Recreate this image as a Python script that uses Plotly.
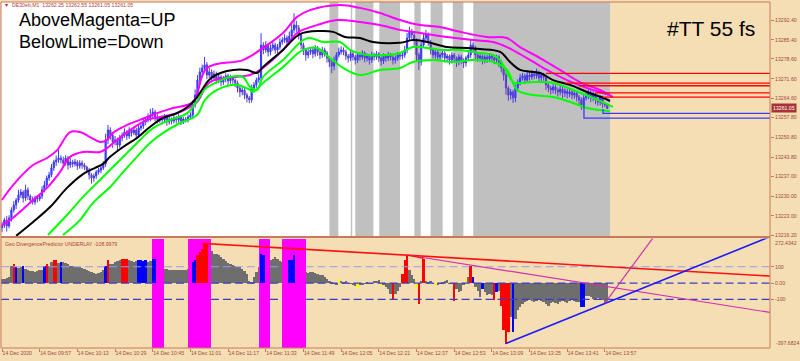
import plotly.graph_objects as go

# ---------------- data ----------------
time_labels = ["14 Dec 2020", "14 Dec 09:57", "14 Dec 10:13", "14 Dec 10:29", "14 Dec 10:45",
               "14 Dec 11:01", "14 Dec 11:17", "14 Dec 11:33", "14 Dec 11:49", "14 Dec 12:05",
               "14 Dec 12:21", "14 Dec 12:37", "14 Dec 12:53", "14 Dec 13:09", "14 Dec 13:25",
               "14 Dec 13:41", "14 Dec 13:57"]
label_minutes = [0, 16, 32, 48, 64, 80, 96, 112, 128, 144, 160, 176, 192, 208, 224, 240, 256]

price_ticks = [13292.40, 13285.40, 13278.60, 13271.60, 13264.60, 13257.80, 13250.80,
               13243.80, 13237.00, 13230.00, 13223.00, 13216.20]
osc_ticks = [100, 0, -100]
osc_tick_text = ["100", "0.00", "-100"]
osc_max, osc_min = 272.4342, -397.6824
price_max, price_min = 13298.78, 13215.85

first_open = 13218.8
closes = [
13219.7, 13221.5, 13219.4, 13222.2, 13225.1, 13226.8, 13228.6, 13230.4, 13231.4, 13229.3,
13232.2, 13230.0, 13228.6, 13227.9, 13229.3, 13229.0, 13230.0, 13232.2, 13233.9, 13236.4,
13237.5, 13240.0, 13242.1, 13242.8, 13243.5, 13242.8, 13241.7, 13243.5, 13241.0, 13242.1,
13241.4, 13242.1, 13240.7, 13241.7, 13241.0, 13240.3, 13239.2, 13237.5, 13236.4, 13237.1,
13238.5, 13239.2, 13240.0, 13241.4, 13249.9, 13253.4, 13251.6, 13249.2, 13249.9, 13248.1,
13250.6, 13251.6, 13252.7, 13251.3, 13253.4, 13252.4, 13253.4, 13251.6, 13254.1, 13254.8,
13256.3, 13257.0, 13257.7, 13258.7, 13259.8, 13258.0, 13257.0, 13257.7, 13257.0, 13258.0,
13256.3, 13257.3, 13256.6, 13257.7, 13257.0, 13258.0, 13256.6, 13257.3, 13257.0, 13258.0,
13258.7, 13262.3, 13265.8, 13271.1, 13274.0, 13275.4, 13276.5, 13272.9, 13274.0, 13271.9,
13273.3, 13271.1, 13272.2, 13270.4, 13271.5, 13272.6, 13270.8, 13271.9, 13271.1, 13270.1,
13268.3, 13266.9, 13267.6, 13265.8, 13264.8, 13264.1, 13268.3, 13269.4, 13271.1, 13271.9,
13283.5, 13281.8, 13283.5, 13281.1, 13282.5, 13283.5, 13281.8, 13282.8, 13284.6, 13285.3,
13286.0, 13284.6, 13286.7, 13288.9, 13290.6, 13289.6, 13287.1, 13283.5, 13281.8, 13280.0,
13281.1, 13281.8, 13280.4, 13282.5, 13281.1, 13280.0, 13281.8, 13280.7, 13278.9, 13277.5,
13276.1, 13278.2, 13280.0, 13281.1, 13281.8, 13281.1, 13279.6, 13278.9, 13280.4, 13279.3,
13278.2, 13280.0, 13279.3, 13280.7, 13278.9, 13279.6, 13278.2, 13280.0, 13279.3, 13280.4,
13278.9, 13277.9, 13279.6, 13278.9, 13280.0, 13279.3, 13278.2, 13278.9, 13280.0, 13279.6,
13280.0, 13281.8, 13286.0, 13288.2, 13287.1, 13285.3, 13280.0, 13277.5, 13283.5, 13286.0,
13287.1, 13284.6, 13281.8, 13280.0, 13281.1, 13279.3, 13280.0, 13280.7, 13278.9, 13279.6,
13278.2, 13280.0, 13278.9, 13277.5, 13279.3, 13278.2, 13277.2, 13278.9, 13280.0, 13283.5,
13282.5, 13280.0, 13278.9, 13279.6, 13278.2, 13279.3, 13278.6, 13279.6, 13278.9, 13278.2,
13279.3, 13277.5, 13275.4, 13272.9, 13268.3, 13265.8, 13266.9, 13264.8, 13268.3, 13270.4,
13271.9, 13272.6, 13271.1, 13272.9, 13272.2, 13273.3, 13272.6, 13273.6, 13271.9, 13272.9,
13272.2, 13269.4, 13268.3, 13267.6, 13268.7, 13267.6, 13266.9, 13267.9, 13266.5, 13267.2,
13266.2, 13266.9, 13265.8, 13266.5, 13265.1, 13264.1, 13262.3, 13264.8, 13265.5, 13266.5,
13264.8, 13265.8, 13264.1, 13263.3, 13264.8, 13262.6, 13262.25, 13261.05]

wick_up = [
1.2, 0.8, 1.5, 1.0, 0.9, 1.4, 0.7, 1.8, 1.1, 0.6,
1.8, 0.9, 0.6, 1.2, 0.8, 1.0, 0.7, 1.3, 1.5, 0.9,
1.1, 1.4, 0.8, 1.6, 2.8, 0.9, 1.2, 1.0, 0.7, 1.3,
0.8, 1.1, 0.6, 1.0, 0.9, 0.7, 0.5, 0.8, 0.6, 0.9,
0.7, 0.8, 0.6, 1.0, 2.2, 1.8, 1.0, 0.9, 1.4, 0.8,
1.1, 0.9, 1.3, 0.7, 1.0, 0.8, 1.2, 0.9, 1.4, 1.0,
1.3, 0.9, 1.6, 2.2, 1.4, 0.8, 1.0, 0.7, 0.9, 1.1,
0.8, 1.0, 0.6, 0.9, 0.7, 1.1, 0.6, 0.8, 0.7, 0.9,
1.0, 1.6, 2.0, 1.8, 1.5, 1.2, 2.8, 1.0, 1.4, 0.9,
1.2, 0.8, 1.1, 0.7, 1.0, 0.9, 0.8, 1.1, 0.7, 0.6,
0.8, 0.7, 1.0, 0.6, 0.8, 0.7, 1.2, 1.0, 0.9, 1.5,
4.2, 1.0, 1.4, 0.8, 1.2, 1.5, 0.9, 1.1, 1.3, 1.0,
1.4, 0.9, 1.6, 2.0, 4.2, 1.5, 1.0, 0.8, 0.9, 0.7,
1.0, 0.8, 1.2, 1.0, 0.7, 0.9, 1.1, 0.8, 0.7, 0.6,
0.8, 1.2, 1.0, 1.5, 1.3, 0.9, 0.8, 0.7, 1.0, 0.8,
0.7, 1.1, 0.8, 1.0, 0.6, 0.9, 0.7, 1.2, 0.8, 1.0,
0.7, 0.6, 1.0, 0.8, 1.1, 0.7, 0.6, 0.9, 1.0, 0.8,
0.9, 1.4, 1.8, 1.8, 1.0, 0.9, 0.6, 0.8, 1.2, 1.5,
1.8, 0.9, 0.8, 0.7, 1.0, 0.6, 0.8, 0.9, 0.7, 0.8,
0.6, 1.0, 0.7, 0.6, 0.9, 0.8, 0.6, 0.8, 1.0, 1.8,
1.0, 0.8, 0.7, 0.9, 0.6, 0.8, 0.7, 1.0, 0.8, 0.6,
0.8, 0.6, 0.7, 0.8, 0.9, 0.6, 1.0, 0.8, 1.2, 1.0,
1.3, 1.0, 0.8, 1.5, 1.1, 1.4, 0.9, 1.6, 0.8, 1.0,
0.8, 0.9, 0.7, 0.8, 1.0, 0.7, 0.9, 1.1, 0.8, 1.0,
0.9, 1.1, 0.8, 1.0, 0.7, 0.8, 0.9, 1.2, 1.0, 1.8,
0.9, 1.2, 0.8, 0.7, 1.0, 0.8, 0.5, 0.3]

wick_dn = [
1.5, 1.0, 2.0, 0.8, 1.2, 1.0, 1.4, 0.9, 1.1, 1.6,
1.0, 1.4, 1.2, 0.9, 1.0, 1.3, 0.8, 1.0, 0.9, 1.2,
1.0, 0.8, 1.1, 1.4, 1.0, 1.2, 1.5, 0.9, 1.6, 1.0,
1.2, 0.9, 1.4, 1.0, 1.3, 1.1, 1.2, 1.6, 2.0, 1.3,
1.0, 0.9, 1.1, 0.8, 1.0, 1.4, 1.6, 2.2, 1.2, 1.8,
1.0, 1.2, 0.9, 1.4, 1.0, 1.3, 0.8, 1.5, 1.0, 0.9,
1.0, 1.1, 0.9, 1.2, 1.0, 1.5, 1.3, 1.0, 1.6, 1.0,
1.4, 1.0, 1.2, 0.8, 1.3, 1.0, 1.4, 1.1, 1.0, 0.9,
1.0, 0.8, 1.0, 1.2, 1.0, 1.3, 1.1, 1.5, 1.0, 1.6,
1.0, 1.3, 1.1, 1.5, 1.0, 1.2, 1.4, 1.0, 1.3, 1.5,
1.6, 1.8, 1.2, 1.5, 1.6, 1.2, 1.0, 1.2, 1.0, 0.9,
1.2, 1.5, 1.0, 1.6, 1.2, 1.0, 1.4, 1.1, 0.9, 1.0,
1.0, 1.3, 0.9, 1.0, 1.2, 1.4, 1.6, 1.5, 1.8, 2.0,
1.2, 1.0, 1.6, 1.0, 1.4, 1.5, 1.0, 1.3, 1.6, 1.8,
2.5, 1.5, 1.0, 0.9, 1.0, 1.2, 1.4, 1.6, 1.0, 1.3,
1.6, 1.0, 1.3, 1.0, 1.5, 1.2, 1.6, 1.0, 1.3, 1.0,
1.4, 1.7, 1.1, 1.4, 1.0, 1.3, 1.6, 1.2, 1.0, 1.3,
1.2, 1.0, 1.2, 1.0, 1.4, 2.0, 2.2, 2.8, 1.2, 1.0,
1.0, 1.4, 1.6, 1.2, 1.3, 1.5, 1.2, 1.0, 1.5, 1.2,
1.6, 1.2, 1.4, 1.8, 1.2, 1.5, 1.8, 1.3, 1.0, 1.0,
1.2, 1.5, 1.3, 1.2, 1.6, 1.2, 1.4, 1.0, 1.3, 1.5,
1.2, 1.8, 1.6, 2.0, 2.4, 2.0, 1.6, 1.8, 1.5, 1.2,
1.2, 1.0, 1.4, 1.0, 1.3, 1.0, 1.2, 1.0, 1.5, 1.1,
1.3, 1.8, 1.5, 1.6, 1.2, 1.5, 1.6, 1.2, 1.8, 1.4,
1.6, 1.2, 1.5, 1.3, 1.6, 1.8, 1.8, 1.2, 1.0, 1.2,
1.5, 1.2, 1.6, 1.3, 1.2, 1.4, 0.8, 0.0]

# moving average / envelope lines: (minute, price) vertices
black_m = [6.0, 13.2, 20.4, 27.6, 34.4, 39.5, 42.9, 45.9, 51.4, 57.3,
           62.8, 68.4, 74.3, 79.8, 82.8, 85.4, 88.3, 95.5, 104.0, 108.3,
           110.8, 119.3, 126.5, 135.0, 140.6, 145.6, 152.0, 157.5, 169.0, 174.5,
           180.5, 189.0, 197.5, 203.0, 211.5, 215.7, 220.0, 228.5, 234.0, 241.2,
           248.4, 255.2, 258.2]
black_v = [13215.9, 13220.8, 13226.1, 13232.9, 13237.8, 13240.0, 13241.4, 13243.9, 13247.4, 13250.6,
           13254.5, 13257.7, 13259.4, 13262.3, 13265.1, 13268.3, 13271.5, 13274.3, 13274.7, 13273.6,
           13275.7, 13281.8, 13287.4, 13288.5, 13288.2, 13286.4, 13286.0, 13284.6, 13284.3, 13285.3,
           13284.6, 13282.8, 13282.5, 13282.1, 13281.1, 13277.5, 13274.7, 13273.6, 13271.1, 13269.4,
           13266.9, 13264.8, 13263.7]

mag_outer_m = [0, 4.7, 13.2, 19.1, 23.4, 28.9, 33.1, 37.4, 41.6, 44.6,
               47.1, 53.1, 58.6, 65.8, 72.6, 81.1, 87.0, 102.3, 109.6, 119.3,
               125.3, 130.8, 143.5, 152.0, 160.5, 169.0, 177.5, 186.0, 194.5, 205.9,
               214.4, 220.0, 228.5, 236.9, 245.4, 253.9, 259.4]
mag_outer_v = [13228.6, 13233.9, 13241.0, 13243.5, 13246.3, 13252.7, 13252.7, 13250.9, 13249.2, 13249.9,
               13252.4, 13255.2, 13257.0, 13259.4, 13261.2, 13263.3, 13275.4, 13278.2, 13281.8, 13287.8,
               13293.5, 13295.9, 13297.7, 13296.7, 13294.9, 13292.4, 13290.6, 13289.9, 13288.2, 13286.4,
               13286.0, 13282.8, 13278.9, 13274.7, 13270.4, 13267.6, 13265.1]

mag_inner_m = [0, 3.4, 7.6, 13.2, 19.1, 24.6, 28.9, 34.4, 41.6, 44.6,
               48.8, 55.6, 61.6, 67.1, 75.6, 82.8, 88.3, 105.3, 109.6, 119.3,
               125.3, 133.8, 142.3, 152.0, 160.5, 169.0, 177.5, 189.0, 200.0, 208.5,
               214.4, 222.9, 231.4, 239.9, 248.4, 258.2]
mag_inner_v = [13219.7, 13221.5, 13224.4, 13228.6, 13232.9, 13238.5, 13243.9, 13245.6, 13245.6, 13247.0,
               13249.9, 13254.1, 13257.0, 13258.0, 13259.8, 13263.3, 13270.4, 13272.9, 13274.7, 13281.8,
               13287.8, 13290.6, 13292.4, 13291.7, 13290.6, 13288.9, 13287.8, 13286.4, 13285.3, 13284.6,
               13282.8, 13278.9, 13274.7, 13271.1, 13268.3, 13265.8]

lime_inner_m = [19.5, 27.6, 34.4, 41.6, 47.1, 53.1, 58.6, 64.1, 70.1, 78.6,
                82.8, 86.2, 91.3, 96.8, 102.3, 105.3, 108.3, 110.8, 119.3, 127.8,
                130.8, 136.3, 143.5, 147.8, 155.0, 163.5, 169.0, 174.5, 180.5, 186.0,
                194.5, 203.0, 208.5, 211.5, 217.0, 220.0, 225.5, 234.0, 242.5, 250.9,
                259.4]
lime_inner_v = [13216.2, 13223.3, 13229.7, 13235.7, 13240.3, 13245.3, 13249.9, 13254.1, 13256.6, 13259.4,
                13263.7, 13267.9, 13270.4, 13272.2, 13272.2, 13268.7, 13267.6, 13272.2, 13278.2, 13285.3,
                13286.0, 13284.6, 13284.6, 13281.8, 13280.0, 13280.0, 13280.7, 13282.8, 13282.5, 13281.8,
                13281.8, 13280.7, 13280.0, 13278.2, 13270.4, 13270.1, 13270.4, 13270.1, 13267.6, 13264.8,
                13261.6]

lime_outer_m = [25.9, 33.1, 38.6, 45.9, 51.4, 57.3, 62.8, 68.4, 75.6, 82.8,
                86.2, 91.3, 99.8, 105.3, 106.6, 110.8, 119.3, 127.8, 133.8, 139.3,
                144.8, 152.0, 160.5, 169.0, 174.5, 183.0, 191.5, 200.0, 208.5, 214.4,
                218.7, 225.5, 234.0, 242.5, 248.4, 253.9, 258.2]
lime_outer_v = [13216.2, 13221.5, 13227.5, 13233.2, 13238.5, 13243.9, 13248.8, 13252.4, 13255.9, 13258.7,
                13264.1, 13267.6, 13269.4, 13267.6, 13266.9, 13270.1, 13275.7, 13281.8, 13282.5, 13278.9,
                13275.4, 13272.9, 13274.7, 13275.4, 13277.5, 13278.2, 13277.5, 13278.2, 13277.5, 13274.7,
                13267.6, 13265.8, 13265.1, 13263.0, 13261.2, 13260.5, 13260.1]

# horizontal levels (right part of price pane)
red_levels = [13273.5, 13270.0, 13269.1, 13266.6, 13265.1]
red_level_start = [231, 239, 245, 252, 255]
blue_levels = [13257.6, 13259.3]
blue_level_start = [247.1, 255.2]
blue_stem_top = [13263.0, 13260.8]

# shaded time zones
gray_start = [139.0, 148.1, 150.0, 160.2, 175.1, 182.0, 191.4, 200.1]
gray_end = [142.8, 148.7, 157.7, 169.0, 177.8, 187.1, 195.9, 258.2]
white_end = 258.2
pink_start = [63.8, 79.1, 109.1, 119.0]
pink_end = [68.8, 88.7, 113.8, 128.9]

# oscillator histogram
osc = [
29, 29, 33, 39, 110, 120, 100, 96, 100, 110,
90, 80, 75, 74, 70, 74, 80, 84, 110, 121,
110, 131, 145, 145, 125, 131, 131, 125, 121, 110,
106, 104, 100, 100, 94, 86, 80, 74, 70, 63,
59, 63, 70, 80, 110, 145, 121, 121, 131, 137,
141, 151, 151, 151, 145, 137, 131, 137, 145, 141,
137, 145, 131, 137, 151, 151, 100, 96, 90, 90,
86, 84, 84, 84, 84, 84, 84, 84, 84, 90,
104, 131, 141, 172, 192, 213, 239, 243, 233, 202,
182, 178, 172, 162, 151, 137, 125, 121, 115, 110,
104, 100, 90, 76, 59, 18, 8, 39, 70, 100,
178, 172, 151, 145, 141, 151, 162, 151, 137, 131,
125, 131, 145, 145, 172, 162, 151, 100, 90, 70,
63, 70, 70, 65, 59, 55, 49, 39, 29, 18,
8, -2, -12, 29, 18, 8, 14, 2, -2, -6,
-18, -26, -12, -6, -2, 8, 2, -2, 14, 18,
22, -18, -6, -22, -33, -63, -104, -67, -43, -22,
60, 141, 172, 80, 49, 29, -22, -125, 18, 151,
18, 8, 18, 2, -12, -6, -2, 8, 18, 22,
2, -2, -110, -33, -53, -43, -12, 29, 39, 106,
39, -22, -43, -84, -33, -53, -73, -63, -73, -104,
-53, -43, -135, -288, -370, -298, -206, -298, -217, -165,
-145, -125, -115, -108, -104, -108, -115, -108, -104, -108,
-115, -125, -135, -121, -115, -121, -125, -115, -108, -115,
-121, -108, -104, -108, -115, -115, -145, -145, -74, -74,
-80, -94, -94, -90, -104, -104, -120, -109]
osc_kind = ("gggggrbggb" "ggggggggbr" "ggrrgbgggg" "gggggggggg" "ggggbrgggg"
            "grrrggggbb" "bbggbbgggg" "gggggggggg" "gbbrrrrrgg" "gggggggggg"
            "gggggggggg" "bbgggggggg" "ggbbbggggg" "gggggggggg" "gggygggggg"
            "gygggggggg" "gyggggrggg" "rrrgggyrgr" "ggggyggggg" "ggrggggygr"
            "bgggbggggr" "bgrrrrgbgg" "gggggggggg" "gggggggggg" "ggggggbbgg"
            "gggggggg")

# indicator trend lines (minute, value)
red_trend_m, red_trend_v = [85, 326.1], [243, 43]
red_short_m, red_short_v = [172, 179], [172, 151]
mag_trend_m, mag_trend_v = [172, 326.1], [172, -180]
blue_trend_m, blue_trend_v = [214, 326.1], [-370, 284]
mag_steep_m, mag_steep_v = [255.9, 277.6], [-124.5, 300]

x_left, x_right = -0.425, 326.1

# ---------------- styling helpers ----------------
BROWN = "#a04a3a"
FRAME = "#c8785c"
FONT = "Liberation Sans, Arial, DejaVu Sans"
L, T, W, H = 1, 2, 769, 346


def px(xp):
    return (xp - L) / W


def py(yp):
    return (T + H - yp) / H


minutes = list(range(len(closes)))
opens = [first_open] + closes[:-1]
highs = [max(o, c) + u for o, c, u in zip(opens, closes, wick_up)]
lows = [min(o, c) - d for o, c, d in zip(opens, closes, wick_dn)]

fig = go.Figure()

# candles
fig.add_trace(go.Candlestick(
    x=minutes, open=opens, high=highs, low=lows, close=closes,
    increasing=dict(line=dict(color="#3a3aff", width=1), fillcolor="#3a3aff"),
    decreasing=dict(line=dict(color="#5a40c8", width=1), fillcolor="#7a3aa0"),
    whiskerwidth=0, xaxis="x", yaxis="y", hoverinfo="skip"))


def add_line(xs, ys, color, width, yaxis="y", dash="solid", shape="linear"):
    fig.add_trace(go.Scatter(x=xs, y=ys, mode="lines", xaxis="x", yaxis=yaxis,
                             line=dict(color=color, width=width, dash=dash, shape=shape),
                             hoverinfo="skip"))


add_line(mag_outer_m, mag_outer_v, "#ff00ff", 2, shape="spline")
add_line(mag_inner_m, mag_inner_v, "#ff00ff", 2, shape="spline")
add_line(lime_inner_m, lime_inner_v, "#00ff00", 2, shape="spline")
add_line(lime_outer_m, lime_outer_v, "#00ff00", 2, shape="spline")
add_line(black_m, black_v, "#000000", 2, shape="spline")

for lv, st in zip(red_levels, red_level_start):
    add_line([st, x_right], [lv, lv], "#ff0000", 1.3)
for lv, st, top in zip(blue_levels, blue_level_start, blue_stem_top):
    add_line([st, st, x_right], [top, lv, lv], "#3a3aff", 1.3)

# oscillator pane
fig.add_trace(go.Bar(x=minutes, y=osc, width=1.02, marker=dict(color="#6e6e6e", line=dict(width=0)),
                     xaxis="x", yaxis="y2", hoverinfo="skip"))


def gapped(level):
    xs, ys, cur = [], [], x_left
    for s, e in zip(pink_start, pink_end):
        xs += [cur, s, None]
        ys += [level, level, None]
        cur = e
    xs += [cur, x_right]
    ys += [level, level]
    return xs, ys


for lv, col in zip(osc_ticks, ["#9a9aee", "#3c3cc8", "#3c3cc8"]):
    gx, gy = gapped(lv)
    add_line(gx, gy, col, 1.2, yaxis="y2", dash="8px,4px")

fig.add_trace(go.Bar(x=[(s + e) / 2 for s, e in zip(pink_start, pink_end)],
                     y=[osc_max - osc_min] * len(pink_start), base=osc_min,
                     width=[e - s for s, e in zip(pink_start, pink_end)],
                     marker=dict(color="#ff00ff", line=dict(width=0)),
                     xaxis="x", yaxis="y2", hoverinfo="skip"))

kind_color = {"r": "#ff0000", "b": "#0000ff", "y": "#ffff00"}
cm = [m for m, k in zip(minutes, osc_kind) if k != "g"]
cv = [v for v, k in zip(osc, osc_kind) if k != "g"]
cc = [kind_color[k] for k in osc_kind if k != "g"]
fig.add_trace(go.Bar(x=cm, y=cv, width=1.02, marker=dict(color=cc, line=dict(width=0)),
                     xaxis="x", yaxis="y2", hoverinfo="skip"))

add_line(red_trend_m, red_trend_v, "#ff1010", 1.6, yaxis="y2")
add_line(mag_trend_m, mag_trend_v, "#d030b0", 1.2, yaxis="y2")
add_line(red_short_m, red_short_v, "#ff1010", 1.2, yaxis="y2")
add_line(blue_trend_m, blue_trend_v, "#1a1aff", 1.6, yaxis="y2")
add_line(mag_steep_m, mag_steep_v, "#d030b0", 1.2, yaxis="y2")

# shapes
shapes = [dict(type="rect", xref="x", yref="y domain", x0=x_left, x1=white_end, y0=0, y1=1,
               fillcolor="#ffffff", line=dict(width=0), layer="below")]
for s, e in zip(gray_start, gray_end):
    shapes.append(dict(type="rect", xref="x", yref="y domain", x0=s, x1=e, y0=0, y1=1,
                       fillcolor="#c0c0c0", line=dict(width=0), layer="below"))
shapes.append(dict(type="rect", xref="paper", yref="paper", x0=0, x1=1, y0=0, y1=1,
                   line=dict(color=FRAME, width=1), fillcolor="rgba(0,0,0,0)", layer="above"))
shapes.append(dict(type="line", xref="paper", yref="paper", x0=0, x1=1, y0=py(237), y1=py(237),
                   line=dict(color=FRAME, width=2), layer="above"))

small = dict(family=FONT, size=5.2, color=BROWN)
annotations = [
    dict(text="AboveMagenta=UP", x=px(17), y=py(20), xref="paper", yref="paper", xanchor="left",
         yanchor="middle", showarrow=False, font=dict(family=FONT, size=18, color="#000000")),
    dict(text="BelowLime=Down", x=px(17), y=py(42), xref="paper", yref="paper", xanchor="left",
         yanchor="middle", showarrow=False, font=dict(family=FONT, size=18, color="#000000")),
    dict(text="#TT 55 fs", x=px(665), y=py(28), xref="paper", yref="paper", xanchor="left",
         yanchor="middle", showarrow=False, font=dict(family=FONT, size=21, color="#000000")),
    dict(text="<span style='color:#d02020'>▼</span>  DE30eb,M1  13262.25 13262.55 13261.05 13261.05",
         x=px(2), y=py(5), xref="paper", yref="paper", xanchor="left", yanchor="middle",
         showarrow=False, font=dict(family=FONT, size=5.2, color="#b0403a")),
    dict(text="Geo DivergencePredictor UNDERLAY -108.9979", x=px(3), y=py(243.5), xref="paper",
         yref="paper", xanchor="left", yanchor="middle", showarrow=False,
         font=dict(family=FONT, size=5.2, color="#b0403a")),
    dict(text=f"{closes[-1]:.2f}", x=px(771), y=closes[-1], xref="paper", yref="y", xanchor="left",
         yanchor="middle", showarrow=False, bgcolor="#a83232", borderpad=1,
         font=dict(family=FONT, size=5.2, color="#ffffff")),
    dict(text=f"{osc_max:.4f}", x=px(774), y=osc_max, xref="paper", yref="y2", xanchor="left",
         yanchor="top", showarrow=False, borderpad=0, font=small),
    dict(text=f"{osc_min:.4f}", x=px(774), y=osc_min, xref="paper", yref="y2", xanchor="left",
         yanchor="bottom", showarrow=False, borderpad=1, font=small),
]

axis_common = dict(showgrid=False, zeroline=False, showline=False, fixedrange=True, automargin=False,
                   ticks="outside", ticklen=3, tickcolor=FRAME, tickfont=small)

fig.update_layout(
    width=800, height=361,
    margin=dict(l=L, r=800 - L - W, t=T, b=361 - T - H, pad=0),
    paper_bgcolor="#f5deb3", plot_bgcolor="#f5deb3",
    showlegend=False, hovermode=False, barmode="overlay", bargap=0,
    xaxis=dict(domain=[0, 1], range=[x_left, x_right], anchor="y2",
               tickvals=label_minutes, ticktext=time_labels, tickangle=0,
               ticklabelposition="outside right", rangeslider=dict(visible=False), **axis_common),
    yaxis=dict(domain=[py(236), 1], range=[price_min, price_max], side="right", anchor="x",
               tickvals=price_ticks, ticktext=[f"{t:.2f}" for t in price_ticks], **axis_common),
    yaxis2=dict(domain=[0, py(238.6)], range=[osc_min, osc_max], side="right", anchor="x",
                tickvals=osc_ticks, ticktext=osc_tick_text, **axis_common),
    shapes=shapes, annotations=annotations,
)

fig.write_html("out.html")
